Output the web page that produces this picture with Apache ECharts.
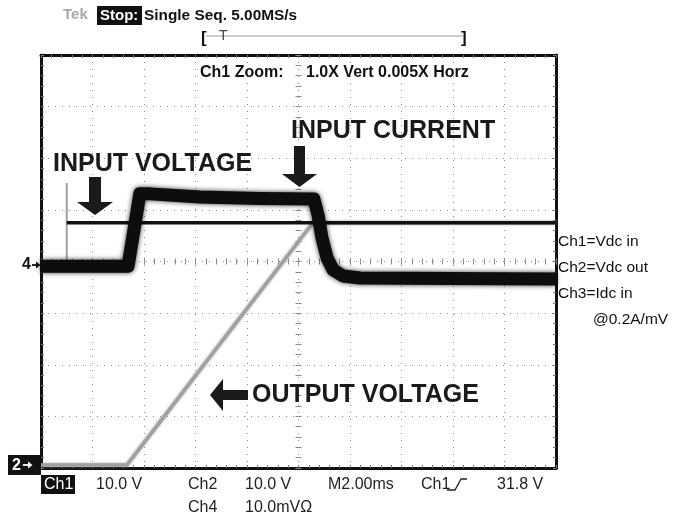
<!DOCTYPE html>
<html>
<head>
<meta charset="utf-8">
<script src="https://cdn.jsdelivr.net/npm/echarts@6/dist/echarts.min.js"></script>
<style>
html,body{margin:0;padding:0;background:#fff;}
#chart{width:686px;height:519px;}
</style>
</head>
<body>
<div id="chart"></div>
<script>
// Time axis in ms (M2.00ms per division, 10 divisions), vertical axis in divisions (8 divisions)
const timeTicks = [0, 2, 4, 6, 8, 10, 12, 14, 16, 18, 20];
const divTicks = [0, 1, 2, 3, 4, 5, 6, 7, 8];

// Ch3 = Idc in (noisy thick trace)
const currentT = [0, 3.38, 3.84, 4.24, 6.18, 8.5, 10.6, 10.76, 10.91, 11.11, 11.34, 11.73, 12.39, 15.88, 20];
const currentV = [3.91, 3.91, 5.31, 5.31, 5.25, 5.22, 5.21, 4.90, 4.46, 4.07, 3.84, 3.72, 3.68, 3.67, 3.66];

// Ch1 = Vdc in
const vinT = [1.0, 20];
const vinV = [4.75, 4.75];
const vinSpikeT = [1.0, 1.0];
const vinSpikeV = [3.88, 5.52];

// Ch2 = Vdc out
const voutT = [0, 3.34, 10.56, 20];
const voutV = [0.06, 0.06, 4.75, 4.75];

const zip = (a, b) => a.map((v, i) => [v, b[i]]);

const FONT = '"Liberation Sans", Arial, Helvetica, sans-serif';
const GRID_COLOR = '#8c8c8c';

function edgeAxis(pos, isX, withSplit) {
  return {
    type: 'value',
    position: pos,
    min: isX ? timeTicks[0] : divTicks[0],
    max: isX ? timeTicks[timeTicks.length - 1] : divTicks[divTicks.length - 1],
    interval: isX ? 2 : 1,
    axisLine: { show: true, onZero: false, lineStyle: { color: '#111', width: 3 } },
    axisTick: { show: true, inside: true, length: 3, lineStyle: { color: '#777', width: 1 } },
    minorTick: { show: true, splitNumber: 5, length: 3, lineStyle: { color: '#777', width: 1 } },
    axisLabel: { show: false },
    splitLine: { show: withSplit, lineStyle: { color: GRID_COLOR, width: 1, type: [1, 6] } },
    minorSplitLine: { show: false }
  };
}
function centerAxis(pos, isX) {
  return {
    type: 'value',
    position: pos,
    min: isX ? -10 : -4,
    max: isX ? 10 : 4,
    interval: isX ? 2 : 1,
    axisLine: { show: false, onZero: true, onZeroAxisIndex: 2 },
    axisTick: { show: true, inside: false, length: 3, lineStyle: { color: '#888', width: 1 } },
    minorTick: { show: true, splitNumber: 5, length: 3, lineStyle: { color: '#888', width: 1 } },
    axisLabel: { show: false },
    splitLine: { show: false }
  };
}

function txt(text, x, y, opt) {
  opt = opt || {};
  return {
    type: 'text', z: 100, silent: true,
    style: {
      text: text, x: x, y: y,
      fill: opt.fill || '#111',
      fontSize: opt.size || 16,
      fontWeight: opt.weight || 'normal',
      fontFamily: FONT,
      align: opt.align || 'left',
      verticalAlign: 'middle'
    }
  };
}
function rect(x, y, w, h, fill) {
  return { type: 'rect', z: 90, silent: true, shape: { x: x, y: y, width: w, height: h }, style: { fill: fill } };
}
function poly(points, fill) {
  return { type: 'polygon', z: 100, silent: true, shape: { points: points }, style: { fill: fill } };
}
function pline(points, stroke, w) {
  return { type: 'polyline', z: 100, silent: true, shape: { points: points }, style: { stroke: stroke, lineWidth: w, fill: null } };
}

const chart = echarts.init(document.getElementById('chart'), null, { renderer: 'canvas' });

const option = {
  animation: false,
  backgroundColor: '#ffffff',
  grid: { left: 41, top: 55, width: 515, height: 413, outerBoundsMode: 'none', containLabel: false },
  xAxis: [
    edgeAxis('bottom', true, true),
    edgeAxis('top', true, false),
    centerAxis('bottom', true),
    centerAxis('top', true)
  ],
  yAxis: [
    edgeAxis('left', false, true),
    edgeAxis('right', false, false),
    centerAxis('left', false),
    centerAxis('right', false)
  ],
  series: [
    {
      name: 'Ch2=Vdc out', type: 'line', xAxisIndex: 0, yAxisIndex: 0,
      data: zip(voutT, voutV), showSymbol: false, silent: true, z: 2,
      lineStyle: { color: '#a0a0a0', width: 3.5, shadowBlur: 3, shadowColor: 'rgba(130,130,130,0.7)' }
    },
    {
      name: 'Ch1 spike', type: 'line', xAxisIndex: 0, yAxisIndex: 0,
      data: zip(vinSpikeT, vinSpikeV), showSymbol: false, silent: true, z: 3,
      lineStyle: { color: '#a0a0a0', width: 2 }
    },
    {
      name: 'Ch1=Vdc in', type: 'line', xAxisIndex: 0, yAxisIndex: 0,
      data: zip(vinT, vinV), showSymbol: false, silent: true, z: 4,
      lineStyle: { color: '#111', width: 3.5 }
    },
    {
      name: 'Ch3=Idc in', type: 'line', xAxisIndex: 0, yAxisIndex: 0,
      data: zip(currentT, currentV), showSymbol: false, silent: true, z: 5,
      lineStyle: { color: '#0d0d0d', width: 13, join: 'round', shadowBlur: 5, shadowColor: 'rgba(0,0,0,0.8)' }
    }
  ],
  graphic: [
    // header
    txt('Tek', 63, 15, { fill: '#a8a8a8', size: 15, weight: 'bold' }),
    rect(97, 6, 45, 19, '#111'),
    txt('Stop:', 100, 15.5, { fill: '#fff', size: 15, weight: 'bold' }),
    txt('Single Seq. 5.00MS/s', 144, 15.5, { size: 15.4, weight: 'bold' }),
    pline([[206, 36], [463, 36]], '#999', 1.2),
    txt('[', 201, 38, { size: 17, weight: 'bold' }),
    txt('T', 219, 36, { size: 14, fill: '#444' }),
    txt(']', 461, 38, { size: 17, weight: 'bold' }),
    txt('Ch1 Zoom:', 200, 73, { size: 16, weight: 'bold' }),
    txt('1.0X Vert 0.005X Horz', 306, 73, { size: 16, weight: 'bold' }),

    // annotations
    txt('INPUT VOLTAGE', 53, 164, { size: 25, weight: 'bold', fill: '#1a1a1a' }),
    poly([[89, 177], [101, 177], [101, 202], [113, 202], [95, 215], [77, 202], [89, 202]], '#1a1a1a'),
    txt('INPUT CURRENT', 291, 131, { size: 25, weight: 'bold', fill: '#1a1a1a' }),
    poly([[294, 146], [305, 146], [305, 174], [317, 174], [299.5, 187], [282, 174], [294, 174]], '#1a1a1a'),
    txt('OUTPUT VOLTAGE', 252, 395, { size: 25, weight: 'bold', fill: '#1a1a1a' }),
    poly([[248, 390], [248, 400], [223, 400], [223, 411], [210, 395], [223, 379], [223, 390]], '#1a1a1a'),

    // right labels
    txt('Ch1=Vdc in', 558, 242, { size: 15.5 }),
    txt('Ch2=Vdc out', 558, 268, { size: 15.5 }),
    txt('Ch3=Idc in', 558, 294, { size: 15.5 }),
    txt('@0.2A/mV', 593, 320, { size: 15.5 }),

    // left markers
    txt('4', 22, 265, { size: 16, weight: 'bold' }),
    pline([[32, 265], [39, 265]], '#111', 1.8),
    poly([[36, 261.5], [40.5, 265], [36, 268.5]], '#111'),
    rect(8, 455, 33, 20, '#111'),
    txt('2', 12, 465.5, { size: 16, weight: 'bold', fill: '#fff' }),
    pline([[23, 465], [31, 465]], '#fff', 1.8),
    poly([[28, 461.5], [32.5, 465], [28, 468.5]], '#fff'),

    // bottom readout
    rect(41, 475, 34, 19, '#111'),
    txt('Ch1', 44, 485, { size: 16, fill: '#fff' }),
    txt('10.0 V', 96, 485, { size: 16, fill: '#222' }),
    txt('Ch2', 188, 485, { size: 16, fill: '#222' }),
    txt('10.0 V', 245, 485, { size: 16, fill: '#222' }),
    txt('M2.00ms', 328, 485, { size: 16, fill: '#222' }),
    txt('Ch1', 421, 485, { size: 16, fill: '#222' }),
    pline([[447, 490], [455, 490], [461, 479], [467, 479]], '#222', 1.3),
    txt('31.8 V', 497, 485, { size: 16, fill: '#222' }),
    txt('Ch4', 188, 508, { size: 16, fill: '#222' }),
    txt('10.0mVΩ', 245, 508, { size: 16, fill: '#222' })
  ]
};

chart.setOption(option);
</script>
</body>
</html>
